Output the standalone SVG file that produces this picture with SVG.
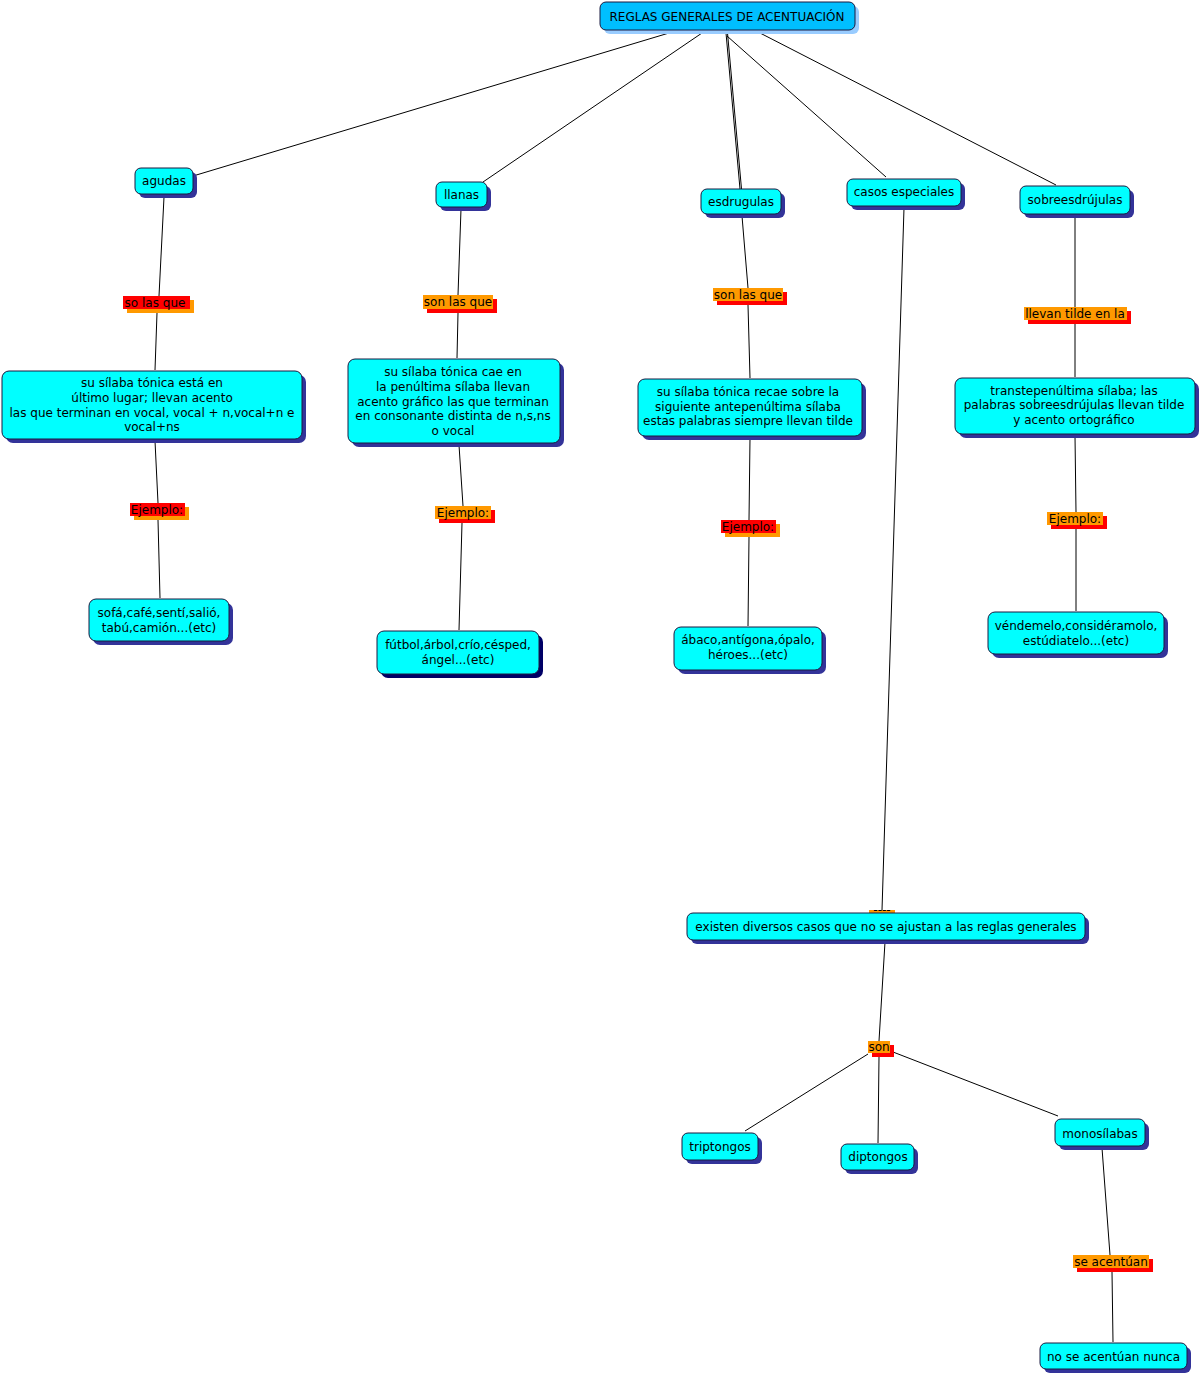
<svg xmlns="http://www.w3.org/2000/svg" width="1201" height="1375" viewBox="0 0 1201 1375">
<style>
.bg{fill:#ffffff}
.n{fill:#00ffff;stroke:#1a1a40;stroke-width:1}
.sh{fill:#333399}
.sh2{fill:#000066}
.t{font-family:"DejaVu Sans","Verdana",sans-serif;font-size:12px;fill:#000000;text-anchor:middle}
.c line{stroke:#000000;stroke-width:1}
.lr{fill:#ff0000}
.lo{fill:#ff9900}
</style>
<rect class="bg" x="0" y="0" width="1201" height="1375"/>
<g class="c">
<line x1="669" y1="33" x2="193" y2="176"/>
<line x1="702" y1="33" x2="483" y2="182"/>
<line x1="726" y1="33" x2="740" y2="189"/>
<line x1="727.5" y1="33" x2="741.5" y2="189"/>
<line x1="727" y1="36" x2="886" y2="177"/>
<line x1="760" y1="33" x2="1056" y2="185"/>
<line x1="164" y1="197" x2="159" y2="296"/>
<line x1="157" y1="313" x2="155" y2="370"/>
<line x1="155" y1="441" x2="158" y2="503"/>
<line x1="158" y1="520" x2="160" y2="598"/>
<line x1="461" y1="209" x2="458" y2="295"/>
<line x1="458" y1="313" x2="457" y2="358"/>
<line x1="459" y1="445" x2="463" y2="506"/>
<line x1="462" y1="523" x2="459" y2="630"/>
<line x1="742" y1="216" x2="748" y2="288"/>
<line x1="748" y1="305" x2="750" y2="378"/>
<line x1="750" y1="438" x2="749" y2="520"/>
<line x1="749" y1="537" x2="748" y2="626"/>
<line x1="1075" y1="216" x2="1075" y2="307"/>
<line x1="1075" y1="324" x2="1075" y2="377"/>
<line x1="1075" y1="436" x2="1076" y2="512"/>
<line x1="1076" y1="529" x2="1076" y2="611"/>
<line x1="904" y1="208" x2="882" y2="910"/>
<line x1="885" y1="942" x2="879" y2="1041"/>
<line x1="868" y1="1054" x2="745" y2="1131"/>
<line x1="879" y1="1057" x2="878" y2="1143"/>
<line x1="893" y1="1052" x2="1058" y2="1116"/>
<line x1="1102" y1="1148" x2="1110" y2="1255"/>
<line x1="1112" y1="1272" x2="1113" y2="1342"/>
</g>

<g id="title">
<rect x="604" y="6" width="255" height="28" rx="6" fill="#99ccff"/>
<rect x="600" y="2" width="255" height="28" rx="6" fill="#00bfff" stroke="#1a1a40"/>
<text class="t" x="727" y="20.5">REGLAS GENERALES DE ACENTUACIÓN</text>
</g>

<g id="agudas">
<rect class="sh" x="139" y="172" width="58" height="26" rx="6"/>
<rect class="n" x="135" y="168" width="58" height="26" rx="6"/>
<text class="t" x="164" y="185">agudas</text>
</g>
<g id="llanas">
<rect class="sh" x="440" y="186" width="51" height="25" rx="6"/>
<rect class="n" x="436" y="182" width="51" height="25" rx="6"/>
<text class="t" x="461.5" y="198.5">llanas</text>
</g>
<g id="esdrugulas">
<rect class="sh" x="705" y="193" width="80" height="25" rx="6"/>
<rect class="n" x="701" y="189" width="80" height="25" rx="6"/>
<text class="t" x="741" y="205.5">esdrugulas</text>
</g>
<g id="casos">
<rect class="sh" x="851" y="183" width="114" height="27" rx="6"/>
<rect class="n" x="847" y="179" width="114" height="27" rx="6"/>
<text class="t" x="904" y="196">casos especiales</text>
</g>
<g id="sobre">
<rect class="sh" x="1024" y="190" width="110" height="28" rx="6"/>
<rect class="n" x="1020" y="186" width="110" height="28" rx="6"/>
<text class="t" x="1075" y="204">sobreesdrújulas</text>
</g>

<g id="lbl-agudas-1">
<rect class="lo" x="127" y="300" width="67" height="13"/>
<rect class="lr" x="123" y="296" width="67" height="13"/>
<text class="t" x="155" y="307">so las que</text>
</g>
<g id="agudas-def">
<rect class="sh" x="6" y="375" width="300" height="68" rx="7"/>
<rect class="n" x="2" y="371" width="300" height="68" rx="7"/>
<text class="t" x="152" y="387">su sílaba tónica está en</text>
<text class="t" x="152" y="402">último lugar; llevan acento</text>
<text class="t" x="152" y="417">las que terminan en vocal, vocal + n,vocal+n e</text>
<text class="t" x="152" y="431">vocal+ns</text>
</g>
<g id="lbl-agudas-2">
<rect class="lo" x="134" y="507" width="55" height="13"/>
<rect class="lr" x="130" y="503" width="55" height="13"/>
<text class="t" x="157" y="514">Ejemplo:</text>
</g>
<g id="agudas-ej">
<rect class="sh" x="93" y="603" width="140" height="42" rx="7"/>
<rect class="n" x="89" y="599" width="140" height="42" rx="7"/>
<text class="t" x="159" y="617">sofá,café,sentí,salió,</text>
<text class="t" x="159" y="632">tabú,camión...(etc)</text>
</g>

<g id="lbl-llanas-1">
<rect class="lr" x="427" y="299" width="70" height="14"/>
<rect class="lo" x="423" y="295" width="70" height="14"/>
<text class="t" x="458" y="306">son las que</text>
</g>
<g id="llanas-def">
<rect class="sh" x="352" y="363" width="212" height="84" rx="7"/>
<rect class="n" x="348" y="359" width="212" height="84" rx="7"/>
<text class="t" x="453" y="376">su sílaba tónica cae en</text>
<text class="t" x="453" y="391">la penúltima sílaba llevan</text>
<text class="t" x="453" y="406">acento gráfico las que terminan</text>
<text class="t" x="453" y="420">en consonante distinta de n,s,ns</text>
<text class="t" x="453" y="435">o vocal</text>
</g>
<g id="lbl-llanas-2">
<rect class="lr" x="439" y="510" width="56" height="13"/>
<rect class="lo" x="435" y="506" width="56" height="13"/>
<text class="t" x="463" y="517">Ejemplo:</text>
</g>
<g id="llanas-ej">
<rect class="sh2" x="381" y="635" width="162" height="43" rx="7"/>
<rect class="n" x="377" y="631" width="162" height="43" rx="7"/>
<text class="t" x="458" y="649">fútbol,árbol,crío,césped,</text>
<text class="t" x="458" y="664">ángel...(etc)</text>
</g>

<g id="lbl-esdr-1">
<rect class="lr" x="717" y="292" width="70" height="13"/>
<rect class="lo" x="713" y="288" width="70" height="13"/>
<text class="t" x="748" y="299">son las que</text>
</g>
<g id="esdr-def">
<rect class="sh" x="642" y="383" width="224" height="57" rx="7"/>
<rect class="n" x="638" y="379" width="224" height="57" rx="7"/>
<text class="t" x="748" y="396">su sílaba tónica recae sobre la</text>
<text class="t" x="748" y="411">siguiente antepenúltima sílaba</text>
<text class="t" x="748" y="425">estas palabras siempre llevan tilde</text>
</g>
<g id="lbl-esdr-2">
<rect class="lo" x="725" y="524" width="55" height="13"/>
<rect class="lr" x="721" y="520" width="55" height="13"/>
<text class="t" x="748" y="531">Ejemplo:</text>
</g>
<g id="esdr-ej">
<rect class="sh" x="678" y="631" width="148" height="43" rx="7"/>
<rect class="n" x="674" y="627" width="148" height="43" rx="7"/>
<text class="t" x="748" y="644">ábaco,antígona,ópalo,</text>
<text class="t" x="748" y="659">héroes...(etc)</text>
</g>

<g id="lbl-sobre-1">
<rect class="lr" x="1028" y="311" width="103" height="13"/>
<rect class="lo" x="1024" y="307" width="103" height="13"/>
<text class="t" x="1075" y="318">llevan tilde en la</text>
</g>
<g id="sobre-def">
<rect class="sh" x="959" y="382" width="240" height="56" rx="7"/>
<rect class="n" x="955" y="378" width="240" height="56" rx="7"/>
<text class="t" x="1074" y="395">transtepenúltima sílaba; las</text>
<text class="t" x="1074" y="409">palabras sobreesdrújulas llevan tilde</text>
<text class="t" x="1074" y="424">y acento ortográfico</text>
</g>
<g id="lbl-sobre-2">
<rect class="lr" x="1051" y="516" width="56" height="13"/>
<rect class="lo" x="1047" y="512" width="56" height="13"/>
<text class="t" x="1075" y="523">Ejemplo:</text>
</g>
<g id="sobre-ej">
<rect class="sh" x="992" y="616" width="176" height="42" rx="7"/>
<rect class="n" x="988" y="612" width="176" height="42" rx="7"/>
<text class="t" x="1076" y="630">véndemelo,considéramolo,</text>
<text class="t" x="1076" y="645">estúdiatelo...(etc)</text>
</g>

<g id="lbl-casos">
<rect class="lo" x="869" y="910" width="26" height="4"/>
<text class="t" x="882" y="914" font-size="6" fill="#333">----</text>
</g>
<g id="existen">
<rect class="sh" x="691" y="917" width="398" height="27" rx="6"/>
<rect class="n" x="687" y="913" width="398" height="27" rx="6"/>
<text class="t" x="886" y="930.5">existen diversos casos que no se ajustan a las reglas generales</text>
</g>
<g id="lbl-son">
<rect class="lr" x="872" y="1045" width="22" height="12"/>
<rect class="lo" x="868" y="1041" width="22" height="12"/>
<text class="t" x="879" y="1051">son</text>
</g>
<g id="triptongos">
<rect class="sh" x="686" y="1137" width="76" height="27" rx="6"/>
<rect class="n" x="682" y="1133" width="76" height="27" rx="6"/>
<text class="t" x="720" y="1150.5">triptongos</text>
</g>
<g id="diptongos">
<rect class="sh" x="845" y="1148" width="73" height="26" rx="6"/>
<rect class="n" x="841" y="1144" width="73" height="26" rx="6"/>
<text class="t" x="878" y="1161">diptongos</text>
</g>
<g id="monosilabas">
<rect class="sh" x="1059" y="1123" width="90" height="27" rx="6"/>
<rect class="n" x="1055" y="1119" width="90" height="27" rx="6"/>
<text class="t" x="1100" y="1137.5">monosílabas</text>
</g>
<g id="lbl-acentuan">
<rect class="lr" x="1077" y="1259" width="76" height="13"/>
<rect class="lo" x="1073" y="1255" width="76" height="13"/>
<text class="t" x="1111" y="1266">se acentúan</text>
</g>
<g id="nunca">
<rect class="sh" x="1044" y="1347" width="147" height="26" rx="6"/>
<rect class="n" x="1040" y="1343" width="147" height="26" rx="6"/>
<text class="t" x="1113.5" y="1360.5">no se acentúan nunca</text>
</g>
</svg>
